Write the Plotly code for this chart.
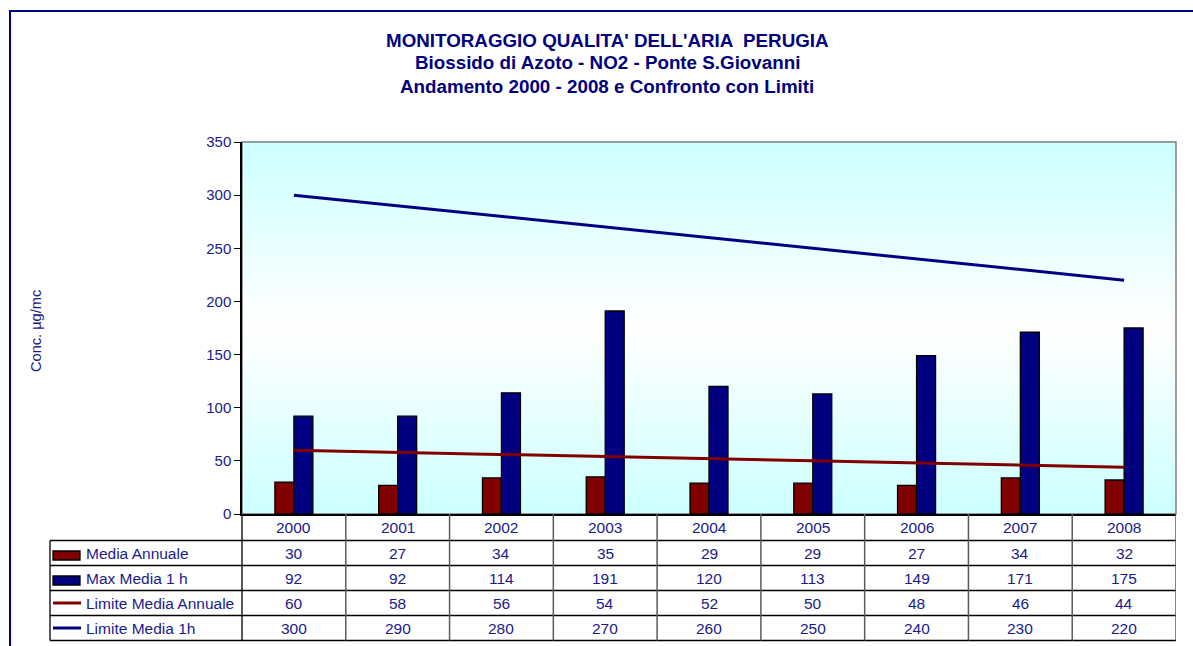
import plotly.graph_objects as go

# ---------------- data ----------------
years = ["2000", "2001", "2002", "2003", "2004", "2005", "2006", "2007", "2008"]
media_annuale = [30, 27, 34, 35, 29, 29, 27, 34, 32]
max_media_1h = [92, 92, 114, 191, 120, 113, 149, 171, 175]
limite_media_annuale = [60, 58, 56, 54, 52, 50, 48, 46, 44]
limite_media_1h = [300, 290, 280, 270, 260, 250, 240, 230, 220]
series_names = ["Media Annuale", "Max Media 1 h", "Limite Media Annuale", "Limite Media 1h"]
title_lines = ["MONITORAGGIO QUALITA' DELL'ARIA  PERUGIA",
               "Biossido di Azoto - NO2 - Ponte S.Giovanni",
               "Andamento 2000 - 2008 e Confronto con Limiti"]
y_title = "Conc. µg/mc"

# ---------------- layout geometry ----------------
W, H = 1193, 646
ML, MR, MT, MB = 242, 17, 142, 132
PW, PH = W - ML - MR, H - MT - MB
FONT = "Liberation Sans, Arial, sans-serif"
NAVY = "#000080"
DARKRED = "#800000"
TXT = "#1a1a8c"


def px2x(px):
    return (px - ML) / PW


def py2y(py):
    return (H - MB - py) / PH


fig = go.Figure()

fig.add_trace(go.Bar(x=years, y=media_annuale, name=series_names[0],
                     marker=dict(color=DARKRED, line=dict(color="black", width=1.3))))
fig.add_trace(go.Bar(x=years, y=max_media_1h, name=series_names[1],
                     marker=dict(color=NAVY, line=dict(color="black", width=1.3))))
fig.add_trace(go.Scatter(x=years, y=limite_media_annuale, name=series_names[2], mode="lines",
                         line=dict(color=DARKRED, width=3)))
fig.add_trace(go.Scatter(x=years, y=limite_media_1h, name=series_names[3], mode="lines",
                         line=dict(color=NAVY, width=3)))

shapes = []
# gradient background (cyan at edges, white at centre)
N = 80
for i in range(N):
    y0, y1 = i / N, (i + 1) / N
    t = abs((y0 + y1) / 2 - 0.5) * 2
    r = round(255 - (255 - 204) * t)
    shapes.append(dict(type="rect", xref="paper", yref="paper", x0=0, x1=1, y0=y0, y1=y1 + 0.002,
                       fillcolor=f"rgb({r},255,255)", line=dict(width=0), layer="below"))
# plot border (grey top/right)
shapes.append(dict(type="rect", xref="paper", yref="paper", x0=0, x1=1, y0=0, y1=1,
                   line=dict(color="#808080", width=1.5), layer="below"))
# outer chart border
shapes.append(dict(type="rect", xref="paper", yref="paper", x0=px2x(10), x1=px2x(1210),
                   y0=py2y(670), y1=py2y(11), line=dict(color=NAVY, width=2)))

# table grid
row_lines = [540.5, 565.5, 590.5, 615.5, 640.5]
for ry in row_lines:
    shapes.append(dict(type="line", xref="paper", yref="paper", x0=px2x(50), x1=1,
                       y0=py2y(ry), y1=py2y(ry), line=dict(color="black", width=1.3)))
shapes.append(dict(type="line", xref="paper", yref="paper", x0=px2x(50), x1=px2x(50),
                   y0=py2y(540.5), y1=py2y(640.5), line=dict(color="black", width=1.3)))
shapes.append(dict(type="line", xref="paper", yref="paper", x0=0, x1=0,
                   y0=py2y(514), y1=py2y(640.5), line=dict(color="black", width=1.3)))
for k in range(len(years)):
    shapes.append(dict(type="line", xref="x", yref="paper", x0=k + 0.5, x1=k + 0.5,
                       y0=py2y(514), y1=py2y(640.5), line=dict(color="#5a5a5a", width=1.5)))

# legend keys in the table
shapes.append(dict(type="rect", xref="paper", yref="paper", x0=px2x(53), x1=px2x(80),
                   y0=py2y(560), y1=py2y(551), fillcolor=DARKRED, line=dict(color="black", width=1.3)))
shapes.append(dict(type="rect", xref="paper", yref="paper", x0=px2x(53), x1=px2x(80),
                   y0=py2y(585), y1=py2y(576), fillcolor=NAVY, line=dict(color="black", width=1.3)))
shapes.append(dict(type="line", xref="paper", yref="paper", x0=px2x(53), x1=px2x(81),
                   y0=py2y(603), y1=py2y(603), line=dict(color=DARKRED, width=3)))
shapes.append(dict(type="line", xref="paper", yref="paper", x0=px2x(53), x1=px2x(81),
                   y0=py2y(628), y1=py2y(628), line=dict(color=NAVY, width=3)))

annotations = []
# title
for txt, cy in zip(title_lines, [40, 63, 87]):
    annotations.append(dict(text=f"<b>{txt}</b>", x=px2x(607), y=py2y(cy), xref="paper", yref="paper",
                            xanchor="center", yanchor="middle", showarrow=False,
                            font=dict(family=FONT, size=18.8, color=NAVY)))
# y axis title
annotations.append(dict(text=y_title, x=px2x(36), y=py2y(331), xref="paper", yref="paper",
                        textangle=-90, xanchor="center", yanchor="middle", showarrow=False,
                        font=dict(family=FONT, size=14.6, color=TXT)))
# table header (years) -- category index positions
for k, yr in enumerate(years):
    annotations.append(dict(text=yr, x=k, y=py2y(527), xref="x", yref="paper",
                            xanchor="center", yanchor="middle", showarrow=False,
                            font=dict(family=FONT, size=15.5, color=TXT)))
# table rows
row_centres = [553, 578, 603, 628]
all_series = [media_annuale, max_media_1h, limite_media_annuale, limite_media_1h]
for name, vals, cy in zip(series_names, all_series, row_centres):
    annotations.append(dict(text=name, x=px2x(84), y=py2y(cy), xref="paper", yref="paper",
                            xanchor="left", yanchor="middle", showarrow=False,
                            font=dict(family=FONT, size=15.5, color=TXT)))
    for k, v in enumerate(vals):
        annotations.append(dict(text=str(v), x=k, y=py2y(cy), xref="x", yref="paper",
                                xanchor="center", yanchor="middle", showarrow=False,
                                font=dict(family=FONT, size=15.5, color=TXT)))

fig.update_layout(
    width=W, height=H,
    margin=dict(l=ML, r=MR, t=MT, b=MB, pad=0),
    paper_bgcolor="white", plot_bgcolor="white",
    barmode="group", bargap=0.634, bargroupgap=0,
    showlegend=False,
    shapes=shapes, annotations=annotations,
    font=dict(family=FONT, color=TXT),
)
fig.update_xaxes(type="category", range=[-0.5, 8.5], showticklabels=False, ticks="",
                 showline=True, linecolor="black", linewidth=1.5, showgrid=False, zeroline=False)
fig.update_yaxes(range=[0, 350], dtick=50, ticks="outside", ticklen=6, tickcolor="black", tickwidth=1.3,
                 showline=True, linecolor="black", linewidth=1.5, showgrid=False, zeroline=False,
                 tickfont=dict(family=FONT, size=15, color=TXT))

fig.write_html("out.html", config={"displayModeBar": False},
               post_script="document.body.style.margin='0';")
